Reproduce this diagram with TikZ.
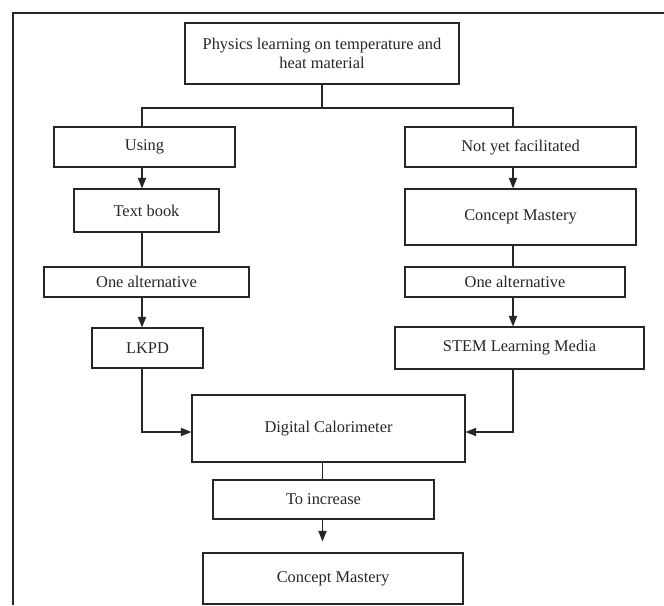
\documentclass[tikz,border=0pt]{standalone}
\usepackage{fontspec}
\setmainfont{Liberation Serif}
\usetikzlibrary{arrows.meta}

\begin{document}
\begin{tikzpicture}[font=\fontsize{14}{16.5}\selectfont,
  box/.style={draw=black!85, line width=1pt, text=black!85, inner sep=0pt, align=center},
  link/.style={draw=black!85, line width=1pt},
  arr/.style={link, -{Triangle[length=9pt,width=7pt]}}]
  \useasboundingbox (0,0) rectangle (19.92,-18.15);
  % frame
  \draw[black!85, line width=1.7pt] (0.39,-18.15) -- (0.39,-0.39) -- (19.92,-0.39);
  % spines
  \coordinate (lx) at (4.26,0);
  \coordinate (rx) at (15.39,0);
  \coordinate (mx) at (9.675,0);
  \coordinate (split) at (9.66,-3.24);
  % top
  \node[box, minimum width=8.22cm, minimum height=1.83cm] (phys) at (9.66,-1.605)
    {Physics learning on temperature and\\heat material};
  % left branch
  \node[box, minimum width=5.43cm, minimum height=1.2cm] (using) at (4.335,-4.41) {Using};
  \node[box, minimum width=4.35cm, minimum height=1.29cm] (txtbook) at (4.395,-6.315) {Text book};
  \node[box, minimum width=6.15cm, minimum height=0.9cm] (altleft) at (4.395,-8.46) {One alternative};
  \node[box, minimum width=3.33cm, minimum height=1.2cm] (lkpd) at (4.425,-10.44) {LKPD};
  % right branch
  \node[box, minimum width=6.93cm, minimum height=1.2cm] (notyet) at (15.615,-4.41) {Not yet facilitated};
  \node[box, minimum width=6.93cm, minimum height=1.68cm] (mastery) at (15.615,-6.51) {Concept Mastery};
  \node[box, minimum width=6.6cm, minimum height=0.9cm] (altright) at (15.45,-8.46) {One alternative};
  \node[box, minimum width=7.47cm, minimum height=1.26cm] (stem) at (15.585,-10.44) {STEM Learning Media};
  % bottom
  \node[box, minimum width=8.19cm, minimum height=2.01cm] (calor) at (9.855,-12.855) {Digital Calorimeter};
  \node[box, minimum width=6.63cm, minimum height=1.17cm] (increase) at (9.705,-14.985) {To increase};
  \node[box, minimum width=7.8cm, minimum height=1.53cm] (result) at (9.99,-17.355) {Concept Mastery};
  % connectors
  \draw[link] (phys.south -| split) -- (split);
  \draw[link] (using.north -| lx) -- (lx |- split) -- (rx |- split) -- (notyet.north -| rx);
  \draw[arr] (using.south -| lx) -- (txtbook.north -| lx);
  \draw[link] (txtbook.south -| lx) -- (altleft.north -| lx);
  \draw[arr] (altleft.south -| lx) -- (lkpd.north -| lx);
  \draw[arr] (notyet.south -| rx) -- (mastery.north -| rx);
  \draw[link] (mastery.south -| rx) -- (altright.north -| rx);
  \draw[arr] (altright.south -| rx) -- (stem.north -| rx);
  \draw[arr] (lkpd.south -| lx) |- ([yshift=-0.105cm]calor.west);
  \draw[arr] (stem.south -| rx) |- ([yshift=-0.105cm]calor.east);
  \draw[link] (calor.south -| mx) -- (increase.north -| mx);
  \draw[arr, shorten >=0.33cm] (increase.south -| mx) -- (result.north -| mx);
\end{tikzpicture}
\end{document}
